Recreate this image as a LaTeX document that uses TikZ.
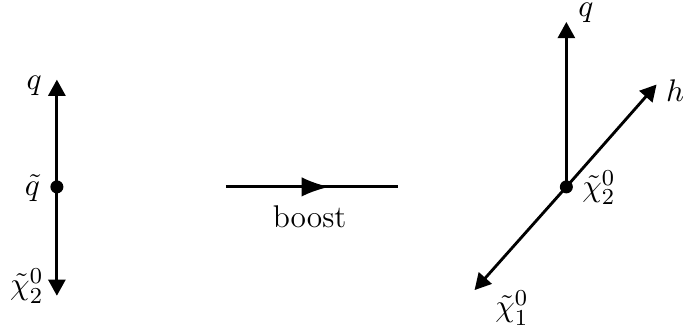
\documentclass[tikz,border=0pt]{standalone}
\usepackage{tikz}
\usetikzlibrary{arrows.meta, positioning, calc, decorations.markings}
\usepackage{amsmath, amssymb}

\begin{document}
\begin{tikzpicture}[
  every node/.style={font=\fontsize{11}{13}\selectfont},
  vec/.style={line width=1pt, -{Triangle[length=2mm,width=2.1mm]}},
  vtx/.style={circle, fill, inner sep=0pt, minimum size=1.6mm},
  midarrow/.style={line width=1pt, decoration={markings, mark=at position 0.6 with {\arrow{Latex[length=3.4mm,width=2.4mm]}}}, postaction={decorate}}
]
  \useasboundingbox (0,0) rectangle (8.43,4.07);

  % squark rest frame
  \node[vtx] (sq) at (0.70,1.77) {};
  \coordinate (qa) at (0.70,3.09);
  \coordinate (na) at (0.70,0.43);
  \draw[vec] (sq.center) -- (qa);
  \draw[vec] (sq.center) -- (na);
  \node (lsq) at (0.40,1.76) {$\tilde{q}$};
  \node (lqa) at (0.42,3.02) {$q$};
  \node (lna) at (0.33,0.55) {$\tilde{\chi}_2^0$};

  % boost
  \coordinate (ba) at (2.78,1.77);
  \coordinate (bb) at (4.90,1.77);
  \draw[midarrow] (ba) -- (bb);
  \node (lboost) at (3.81,1.40) {boost};

  % lab frame
  \node[vtx] (nt) at (6.97,1.77) {};
  \coordinate (qb) at (6.97,3.80);
  \coordinate (hb) at (8.08,3.03);
  \coordinate (nb) at (5.84,0.50);
  \draw[vec] (nt.center) -- (qb);
  \draw[vec] (nt.center) -- (hb);
  \draw[vec] (nt.center) -- (nb);
  \node (lqb) at (7.21,3.91) {$q$};
  \node (lhb) at (8.31,2.96) {$h$};
  \node (lnt) at (7.37,1.76) {$\tilde{\chi}_2^0$};
  \node (lnb) at (6.30,0.28) {$\tilde{\chi}_1^0$};
\end{tikzpicture}
\end{document}
